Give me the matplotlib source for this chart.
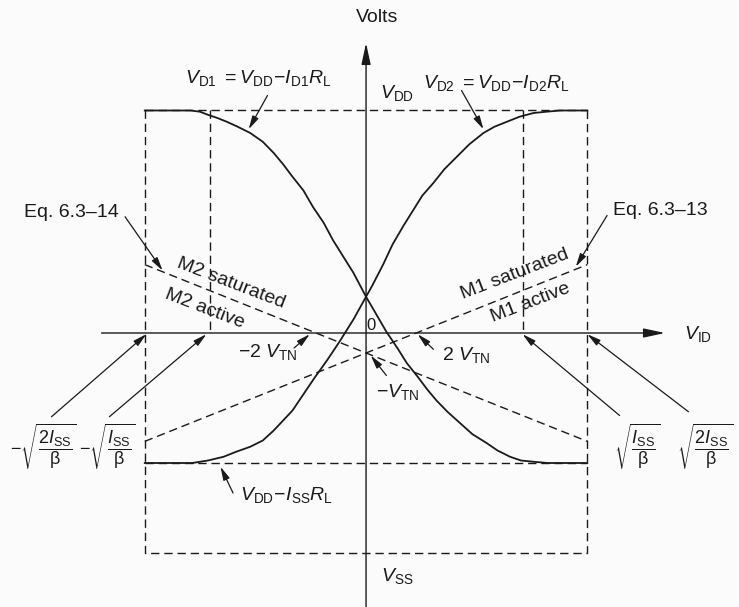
import matplotlib
matplotlib.use("Agg")
import matplotlib.pyplot as plt

plt.rcParams['font.family'] = ['Liberation Sans', 'DejaVu Sans']
plt.rcParams['mathtext.fontset'] = 'custom'
plt.rcParams['mathtext.rm'] = 'Liberation Sans'
plt.rcParams['mathtext.it'] = 'Liberation Sans:italic'
plt.rcParams['mathtext.bf'] = 'Liberation Sans:bold'

INK = '#1a1a1a'

# Levels (volts) and input-voltage limits (units of sqrt(I_SS/beta))
V_DD = 1.78
V_LOW = -1.04      # V_DD - I_SS*R_L
V_SS = -1.76
V_TN = 0.16
X_ONE = 1.0        # sqrt(I_SS/beta)
X_TWO = 1.414      # sqrt(2 I_SS/beta)

# Drain voltages
vid_d1 = [-1.414, -1.12, -1.06, -1.02, -0.95, -0.89, -0.82, -0.74, -0.66, -0.59,
          -0.53, -0.47, -0.40, -0.34, -0.27, -0.21, -0.15, -0.08, 0.0, 0.13,
          0.20, 0.26, 0.33, 0.39, 0.45, 0.52, 0.60, 0.68, 0.77, 0.84,
          0.92, 0.99, 1.07, 1.16, 1.414]
vd1 = [1.78, 1.78, 1.77, 1.75, 1.72, 1.69, 1.65, 1.60, 1.53, 1.44,
       1.35, 1.25, 1.14, 1.01, 0.88, 0.74, 0.62, 0.48, 0.29, 0.01,
       -0.12, -0.24, -0.35, -0.45, -0.54, -0.63, -0.72, -0.81, -0.88, -0.94,
       -0.99, -1.02, -1.03, -1.04, -1.04]
vid_d2 = [-1.414, -1.11, -1.01, -0.91, -0.83, -0.74, -0.66, -0.59, -0.53, -0.47,
          -0.40, -0.33, -0.25, -0.17, -0.08, 0.0, 0.04, 0.11, 0.17, 0.24,
          0.30, 0.36, 0.43, 0.50, 0.58, 0.66, 0.75, 0.82, 0.90, 0.98,
          1.07, 1.15, 1.24, 1.414]
vd2 = [-1.04, -1.04, -1.02, -0.99, -0.95, -0.91, -0.86, -0.78, -0.70, -0.62,
       -0.49, -0.36, -0.22, -0.07, 0.11, 0.29, 0.38, 0.55, 0.71, 0.86,
       0.98, 1.10, 1.20, 1.31, 1.41, 1.51, 1.60, 1.65, 1.69, 1.73,
       1.76, 1.77, 1.78, 1.78]

# Saturation/active boundaries: v = +/- vid/2 - V_TN
bound_x = [-X_TWO, X_TWO]
eq13_y = [-0.5 * X_TWO - V_TN, 0.5 * X_TWO - V_TN]
eq14_y = [0.5 * X_TWO - V_TN, -0.5 * X_TWO - V_TN]

fig = plt.figure(figsize=(7.39, 6.07), dpi=100)
fig.patch.set_facecolor('#fbfbfb')
ax = fig.add_axes([0, 0, 1, 1])
ax.set_xlim(-2.339, 2.383)
ax.set_ylim(-2.192, 2.664)
ax.axis('off')

dash = dict(color=INK, lw=1.0, dashes=(6, 3.5))

# dashed frame and guide lines
ax.plot([-X_TWO, -X_TWO, X_TWO, X_TWO], [V_DD, V_SS, V_SS, V_DD], **dash)
ax.plot([-X_TWO, X_TWO], [V_DD, V_DD], **dash)
ax.plot([-X_TWO, X_TWO], [V_LOW, V_LOW], **dash)
ax.plot([-X_ONE, -X_ONE], [V_DD, 0], **dash)
ax.plot([X_ONE, X_ONE], [V_DD, 0], **dash)
ax.plot(bound_x, eq13_y, **dash)
ax.plot(bound_x, eq14_y, **dash)

# transfer curves
ax.plot(vid_d1, vd1, color=INK, lw=1.3, solid_joinstyle='round')
ax.plot(vid_d2, vd2, color=INK, lw=1.3, solid_joinstyle='round')

# axes with arrow heads
axis_head = dict(arrowstyle='-|>,head_length=1.3,head_width=0.28', color=INK,
                 lw=1.0, mutation_scale=10, shrinkA=0, shrinkB=0)
ax.annotate('', xy=(1.91, 0), xytext=(-1.69, 0), arrowprops=axis_head)
ax.annotate('', xy=(0, 2.32), xytext=(0, -2.2), arrowprops=axis_head)


def pointer(tip, tail):
    ax.annotate('', xy=tip, xytext=tail,
                arrowprops=dict(arrowstyle='-|>,head_length=0.8,head_width=0.2',
                                color=INK, lw=0.9, mutation_scale=10,
                                shrinkA=0, shrinkB=0))


fs = 14
ax.text(0.07, 2.52, 'Volts', fontsize=14, ha='center', va='center', color=INK)
ax.text(2.12, -0.01, r'$V_{\mathrm{ID}}$', fontsize=fs, ha='center', va='center', color=INK)
ax.text(0.03, 0.06, '0', fontsize=12, ha='center', va='center', color=INK)

ax.text(-0.69, 2.04, r'$V_{\mathrm{D1}}\ =V_{\mathrm{DD}}\!-\!I_{\mathrm{D1}}R_{\mathrm{L}}$',
        fontsize=fs, ha='center', va='center', color=INK)
pointer((-0.75, 1.63), (-0.63, 1.90))
ax.text(0.83, 2.0, r'$V_{\mathrm{D2}}\ =V_{\mathrm{DD}}\!-\!I_{\mathrm{D2}}R_{\mathrm{L}}$',
        fontsize=fs, ha='center', va='center', color=INK)
pointer((0.75, 1.63), (0.61, 1.94))
ax.text(0.20, 1.92, r'$V_{\mathrm{DD}}$', fontsize=fs, ha='center', va='center', color=INK)

ax.text(-1.88, 0.96, 'Eq. 6.3\u201314', fontsize=fs, ha='center', va='center', color=INK)
pointer((-1.30, 0.50), (-1.54, 0.93))
ax.text(1.88, 0.98, 'Eq. 6.3\u201313', fontsize=fs, ha='center', va='center', color=INK)
pointer((1.34, 0.53), (1.54, 0.94))

ax.text(-0.86, 0.40, 'M2 saturated', fontsize=fs, ha='center', va='center',
        rotation=-21, color=INK)
ax.text(-1.03, 0.19, 'M2 active', fontsize=fs, ha='center', va='center',
        rotation=-21, color=INK)
ax.text(0.95, 0.47, 'M1 saturated', fontsize=fs, ha='center', va='center',
        rotation=21, color=INK)
ax.text(1.05, 0.24, 'M1 active', fontsize=fs, ha='center', va='center',
        rotation=21, color=INK)

ax.text(-0.63, -0.15, r'$-2\ V_{\mathrm{TN}}$', fontsize=fs, ha='center', va='center', color=INK)
pointer((-0.36, -0.01), (-0.46, -0.12))
ax.text(0.64, -0.18, r'$2\ V_{\mathrm{TN}}$', fontsize=fs, ha='center', va='center', color=INK)
pointer((0.33, -0.01), (0.43, -0.13))
ax.text(0.20, -0.47, r'$-V_{\mathrm{TN}}$', fontsize=fs, ha='center', va='center', color=INK)
pointer((0.03, -0.18), (0.13, -0.34))

fr = 13
ax.text(-2.06, -0.91, r'$-\sqrt{\dfrac{2I_{\mathrm{SS}}}{\mathrm{\beta}}}$', fontsize=fr,
        ha='center', va='center', color=INK)
pointer((-X_TWO + 0.01, -0.01), (-2.01, -0.67))
ax.text(-1.65, -0.91, r'$-\sqrt{\dfrac{I_{\mathrm{SS}}}{\mathrm{\beta}}}$', fontsize=fr,
        ha='center', va='center', color=INK)
pointer((-X_ONE - 0.02, -0.01), (-1.64, -0.67))
ax.text(1.73, -0.91, r'$\sqrt{\dfrac{I_{\mathrm{SS}}}{\mathrm{\beta}}}$', fontsize=fr,
        ha='center', va='center', color=INK)
pointer((X_ONE, -0.01), (1.62, -0.66))
ax.text(2.17, -0.91, r'$\sqrt{\dfrac{2I_{\mathrm{SS}}}{\mathrm{\beta}}}$', fontsize=fr,
        ha='center', va='center', color=INK)
pointer((X_TWO, -0.01), (2.06, -0.63))

ax.text(-0.51, -1.30, r'$V_{\mathrm{DD}}\!-\!I_{\mathrm{SS}}R_{\mathrm{L}}$', fontsize=fs,
        ha='center', va='center', color=INK)
pointer((-0.93, -1.07), (-0.85, -1.28))
ax.text(0.20, -1.94, r'$V_{\mathrm{SS}}$', fontsize=fs, ha='center', va='center', color=INK)

fig.savefig('out.png', dpi=100, facecolor=fig.get_facecolor())
